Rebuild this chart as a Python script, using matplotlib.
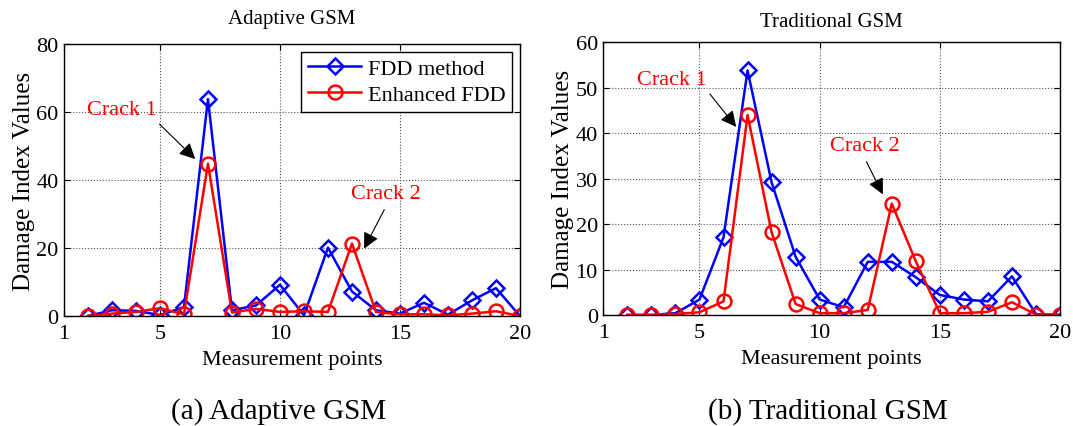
import matplotlib.pyplot as plt

plt.rcParams['font.family'] = ['Liberation Serif', 'DejaVu Serif']

# measurement points
points = list(range(2, 21))

# (a) adaptive GSM
fdd_a = [0, 1.7, 1.5, 0.3, 2.6, 63.8, 1.7, 3.1, 9.2, 0.2, 20.1, 7.2, 1.7, 0.7, 3.9, 0.4, 4.6, 8.2, 0]
efdd_a = [0, 0.7, 1.2, 2.3, 0.5, 44.8, 1.0, 2.1, 1.2, 1.4, 1.2, 21.3, 1.2, 0.5, 0.5, 0.2, 0.7, 1.4, 0]

# (b) traditional GSM
fdd_b = [0, 0, 0.4, 3.4, 17.1, 53.8, 29.2, 12.8, 3.4, 1.7, 11.7, 11.7, 8.3, 4.4, 3.4, 3.0, 8.5, 0.2, 0]
efdd_b = [0, 0, 0.2, 0.6, 3.0, 44.0, 18.2, 2.4, 0.4, 0.4, 1.1, 24.5, 11.8, 0.4, 0.4, 0.7, 2.8, 0.1, 0.1]

xticks = [1, 5, 10, 15, 20]

fig = plt.figure(figsize=(10.73, 4.27), dpi=100)
ax1 = fig.add_axes([0.0596, 0.2576, 0.425, 0.637])
ax2 = fig.add_axes([0.5623, 0.26, 0.4256, 0.6386])


def draw(ax, fdd, efdd, title, ymax, ystep, tpad):
    ax.plot(points, fdd, color='#0000ff', lw=1.8, marker='D', ms=8, mfc='none',
            mec='#0000ff', mew=1.8, label='FDD method')
    ax.plot(points, efdd, color='#ff0000', lw=1.8, marker='o', ms=10, mfc='none',
            mec='#ff0000', mew=1.8, label='Enhanced FDD')
    ax.set_xlim(1, 20)
    ax.set_ylim(0, ymax)
    ax.set_xticks(xticks)
    ax.set_yticks(range(0, ymax + 1, ystep))
    ax.grid(True, linestyle=':', color='#555555', lw=0.8)
    ax.tick_params(direction='in', top=True, right=True, labelsize=16, length=4)
    ax.tick_params(axis='x', pad=6)
    ax.tick_params(axis='y', pad=4)
    ax.set_xlabel('Measurement points', fontsize=16, labelpad=5)
    ax.set_ylabel('Damage Index Values', fontsize=18, labelpad=1)
    ax.set_title(title, fontsize=15, pad=tpad)
    for s in ax.spines.values():
        s.set_linewidth(1.0)


draw(ax1, fdd_a, efdd_a, 'Adaptive GSM', 80, 20, 15)
draw(ax2, fdd_b, efdd_b, 'Traditional GSM', 60, 10, 12)

leg = ax1.legend(loc='upper right', fontsize=16, fancybox=False, framealpha=1,
                 edgecolor='k', borderaxespad=0.35, handlelength=2.4,
                 handletextpad=0.3, labelspacing=0.25, borderpad=0.3)
leg.get_frame().set_linewidth(1.0)

arrow = dict(arrowstyle='-|>', color='k', lw=0.8, mutation_scale=24)
ax1.annotate('', xy=(6.55, 45.6), xytext=(4.9, 57), arrowprops=arrow)
ax1.text(3.42, 60.6, 'Crack 1', color='#ff0000', fontsize=16, ha='center', va='center')
ax1.annotate('', xy=(13.45, 19.1), xytext=(14.4, 32), arrowprops=arrow)
ax1.text(14.4, 35.9, 'Crack 2', color='#ff0000', fontsize=16, ha='center', va='center')

ax2.annotate('', xy=(6.6, 40.9), xytext=(5.36, 49.1), arrowprops=arrow)
ax2.text(3.86, 51.9, 'Crack 1', color='#ff0000', fontsize=16, ha='center', va='center')
ax2.annotate('', xy=(12.68, 26), xytext=(11.89, 34.3), arrowprops=arrow)
ax2.text(11.89, 37.2, 'Crack 2', color='#ff0000', fontsize=16, ha='center', va='center')

fig.text(0.26, 0.037, '(a) Adaptive GSM', fontsize=21, ha='center', va='center')
fig.text(0.772, 0.037, '(b) Traditional GSM', fontsize=21, ha='center', va='center')

fig.savefig('out.png', dpi=100)
